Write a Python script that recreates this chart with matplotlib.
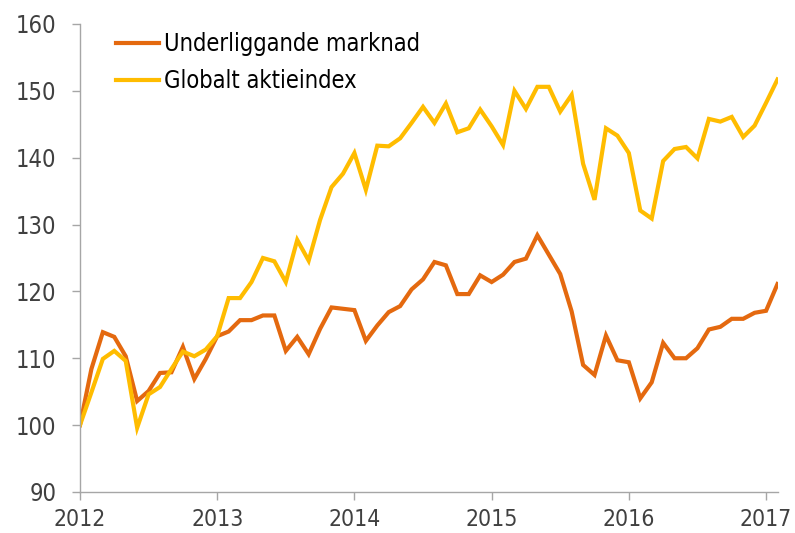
import matplotlib
matplotlib.use("Agg")
import matplotlib.pyplot as plt
import numpy as np

plt.rcParams['font.family'] = ['DejaVu Sans']
plt.rcParams['font.stretch'] = 'condensed'

# monthly values, Jan 2012 - Feb 2017
underliggande = [
    100.0, 108.4, 113.9, 113.2, 110.3, 103.6, 105.1, 107.8, 107.9, 111.7,
    106.9, 109.9, 113.3, 114.0, 115.7, 115.7, 116.4, 116.4, 111.1, 113.2,
    110.6, 114.4, 117.6, 117.4, 117.2, 112.6, 114.9, 116.9, 117.8, 120.3,
    121.8, 124.4, 123.9, 119.6, 119.6, 122.4, 121.4, 122.5, 124.4, 124.9,
    128.4, 125.5, 122.6, 117.0, 109.0, 107.5, 113.4, 109.7, 109.4, 104.0,
    106.4, 112.3, 110.0, 110.0, 111.5, 114.3, 114.7, 115.9, 115.9, 116.8,
    117.1, 121.1,
]
globalt = [
    100.0, 104.9, 109.9, 111.1, 109.6, 99.6, 104.6, 105.7, 108.4, 111.0,
    110.3, 111.3, 113.3, 119.0, 119.0, 121.4, 125.0, 124.5, 121.4, 127.7,
    124.6, 130.7, 135.6, 137.6, 140.7, 135.2, 141.8, 141.7, 142.9, 145.2,
    147.6, 145.2, 148.1, 143.8, 144.4, 147.2, 144.7, 141.9, 150.0, 147.3,
    150.6, 150.6, 146.9, 149.4, 139.1, 133.7, 144.4, 143.3, 140.7, 132.1,
    130.9, 139.5, 141.3, 141.6, 139.9, 145.8, 145.4, 146.1, 143.1, 144.8,
    148.2, 151.7,
]
labels = ['Underliggande marknad', 'Globalt aktieindex']
years = [2012, 2013, 2014, 2015, 2016, 2017]

x = 2012 + np.arange(len(underliggande)) / 12.0

fig = plt.figure(figsize=(7.95, 5.33), dpi=100)
ax = fig.add_axes([0.1006, 0.077, 0.878, 0.878])

ax.plot(x, underliggande, color='#e4690f', lw=3, label=labels[0], solid_joinstyle='miter')
ax.plot(x, globalt, color='#ffbc00', lw=3, label=labels[1], solid_joinstyle='miter')

ax.set_xlim(2012, 2017.087)
ax.set_ylim(90, 160)
ax.set_xticks(years)
ax.set_yticks(range(90, 161, 10))

grey = '#a6a6a6'
for s in ['top', 'right']:
    ax.spines[s].set_visible(False)
for s in ['left', 'bottom']:
    ax.spines[s].set_color(grey)
    ax.spines[s].set_linewidth(1.0)
ax.tick_params(colors=grey, labelcolor='#404040', length=5.8, width=1.0)
ax.tick_params(axis='y', pad=11, labelsize=17)
ax.tick_params(axis='x', pad=6, labelsize=16.5)

ax.legend(loc='upper left', bbox_to_anchor=(0.0385, 1.003), frameon=False, fontsize=17,
          handlelength=1.82, handletextpad=0.2, labelspacing=0.55, borderaxespad=0)

fig.savefig('out.png', dpi=100)
